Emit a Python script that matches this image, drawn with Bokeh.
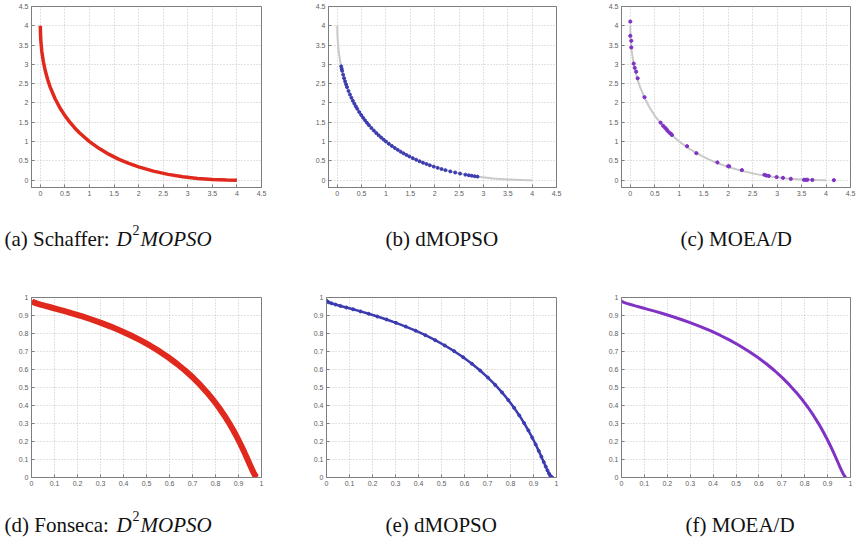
from bokeh.plotting import figure
from bokeh.layouts import column, row
from bokeh.models import FixedTicker, Range1d
from bokeh.core.properties import value
from bokeh.embed import file_html
from bokeh.resources import INLINE

# ---- Schaffer front (reference curve) ----
SCH_F1 = [0.0, 0.002, 0.01, 0.03, 0.06, 0.1, 0.15, 0.2, 0.3, 0.4, 0.5, 0.6, 0.7, 0.8,
          1.0, 1.2, 1.4, 1.6, 1.8, 2.0, 2.3, 2.6, 2.9, 3.2, 3.5, 3.8, 4.0]
SCH_F2 = [4.0, 3.823, 3.61, 3.337, 3.080, 2.835, 2.601, 2.411, 2.109, 1.870, 1.672, 1.502,
          1.353, 1.222, 1.0, 0.818, 0.667, 0.540, 0.433, 0.343, 0.234, 0.150, 0.088,
          0.045, 0.017, 0.003, 0.0]

# ---- Schaffer: dMOPSO solutions ----
DMOPSO_SCH_F1 = [0.08, 0.09, 0.10, 0.12, 0.14, 0.16, 0.18, 0.20, 0.23, 0.26, 0.29, 0.32,
                 0.35, 0.38, 0.41, 0.45, 0.49, 0.53, 0.57, 0.61, 0.65, 0.70, 0.75, 0.80,
                 0.85, 0.90, 0.95, 1.00, 1.06, 1.12, 1.18, 1.24, 1.30, 1.36, 1.42, 1.48,
                 1.55, 1.62, 1.69, 1.76, 1.83, 1.90, 1.98, 2.06, 2.14, 2.22, 2.32, 2.42,
                 2.52, 2.63, 2.70, 2.76, 2.82, 2.88]
DMOPSO_SCH_F2 = [2.949, 2.89, 2.835, 2.734, 2.643, 2.56, 2.483, 2.411, 2.312, 2.220, 2.136,
                 2.057, 1.983, 1.914, 1.849, 1.767, 1.69, 1.618, 1.550, 1.486, 1.425,
                 1.353, 1.286, 1.222, 1.162, 1.105, 1.051, 1.0, 0.942, 0.887, 0.835,
                 0.786, 0.739, 0.695, 0.654, 0.614, 0.570, 0.529, 0.49, 0.453, 0.419,
                 0.386, 0.352, 0.319, 0.288, 0.260, 0.227, 0.198, 0.170, 0.143, 0.127,
                 0.115, 0.103, 0.092]

# ---- Schaffer: MOEA/D solutions ----
MOEAD_SCH_F1 = [0.0, 0.0, 0.02, 0.02, 0.07, 0.09, 0.12, 0.15, 0.29, 0.62, 0.67, 0.71,
                0.74, 0.76, 0.80, 0.83, 0.85, 1.16, 1.35, 1.78, 2.0, 2.02, 2.28, 2.74,
                2.78, 2.83, 2.99, 3.12, 3.28, 3.55, 3.59, 3.62, 3.72, 4.16]
MOEAD_SCH_F2 = [4.11, 3.74, 3.61, 3.44, 3.02, 2.91, 2.81, 2.64, 2.15, 1.49, 1.41, 1.36,
                1.32, 1.28, 1.23, 1.20, 1.17, 0.88, 0.70, 0.46, 0.36, 0.36, 0.26, 0.14,
                0.12, 0.11, 0.08, 0.06, 0.035, 0.01, 0.01, 0.01, 0.005, 0.0]

# ---- Fonseca front ----
FON_F1 = [0.0, 0.0025, 0.0100, 0.0222, 0.0392, 0.0606, 0.0861, 0.1153, 0.1479, 0.1833,
          0.2212, 0.2611, 0.3023, 0.3447, 0.3874, 0.4302, 0.4727, 0.5145, 0.5551, 0.5944,
          0.6321, 0.6679, 0.7018, 0.7335, 0.7631, 0.7904, 0.8155, 0.8384, 0.8592, 0.8779,
          0.8946, 0.9095, 0.9227, 0.9343, 0.9444, 0.9532, 0.9608, 0.9674, 0.9730, 0.9777,
          0.9817]
FON_F2 = [0.9817, 0.9777, 0.9730, 0.9674, 0.9608, 0.9532, 0.9444, 0.9343, 0.9227, 0.9095,
          0.8946, 0.8779, 0.8592, 0.8384, 0.8155, 0.7904, 0.7631, 0.7335, 0.7018, 0.6679,
          0.6321, 0.5944, 0.5551, 0.5145, 0.4727, 0.4302, 0.3874, 0.3447, 0.3023, 0.2611,
          0.2212, 0.1833, 0.1479, 0.1153, 0.0861, 0.0606, 0.0392, 0.0222, 0.0100, 0.0025,
          0.0]

# ---- ticks ----
SCH_TICKS = [0, 0.5, 1, 1.5, 2, 2.5, 3, 3.5, 4, 4.5]
SCH_LABELS = ["0", "0.5", "1", "1.5", "2", "2.5", "3", "3.5", "4", "4.5"]
FON_TICKS = [0, 0.1, 0.2, 0.3, 0.4, 0.5, 0.6, 0.7, 0.8, 0.9, 1]
FON_LABELS = ["0", "0.1", "0.2", "0.3", "0.4", "0.5", "0.6", "0.7", "0.8", "0.9", "1"]

RED = "#e0281c"
BLUE = "#3c3cb0"
PURPLE = "#7f32c4"
GREY = "#c9c9c9"
AX = "#7e7e7e"


def panel(xr, yr, ticks, labels, left, right, top, fw, fh):
    p = figure(frame_width=fw, frame_height=fh,
               x_range=Range1d(*xr), y_range=Range1d(*yr),
               toolbar_location=None, output_backend="svg",
               min_border_left=left, min_border_right=right,
               min_border_top=top, min_border_bottom=18,
               background_fill_color="white", border_fill_color="white",
               outline_line_color=AX)
    overrides = {t: s for t, s in zip(ticks, labels)}
    for ax in (p.xaxis[0], p.yaxis[0]):
        ax.ticker = FixedTicker(ticks=ticks)
        ax.major_label_overrides = overrides
        ax.major_label_text_font_size = "7px"
        ax.major_label_text_color = "#606060"
        ax.major_label_text_font = "Liberation Sans"
        ax.major_label_standoff = 3
        ax.axis_line_color = AX
        ax.major_tick_line_color = AX
        ax.major_tick_in = 3
        ax.major_tick_out = 0
        ax.minor_tick_line_color = None
    for g in (p.xgrid[0], p.ygrid[0]):
        g.ticker = FixedTicker(ticks=ticks)
        g.grid_line_color = "#c4c4c4"
        g.grid_line_dash = "1 2"
        g.grid_line_width = 1
    return p


SCH_X = (-0.18, 4.5)
SCH_Y = (-0.19, 4.5)
FON_R = (0, 1)

# (a) Schaffer: D2MOPSO
pa = panel(SCH_X, SCH_Y, SCH_TICKS, SCH_LABELS, 31, 29, 6, 230, 181)
pa.line(SCH_F1, SCH_F2, line_color=RED, line_width=3.5)

# (b) dMOPSO
pb = panel(SCH_X, SCH_Y, SCH_TICKS, SCH_LABELS, 38, 24, 6, 228, 181)
pb.line(SCH_F1, SCH_F2, line_color=GREY, line_width=2)
pb.scatter(DMOPSO_SCH_F1, DMOPSO_SCH_F2, size=3, marker="circle",
           fill_color=BLUE, line_color=BLUE)

# (c) MOEA/D
pc = panel(SCH_X, SCH_Y, SCH_TICKS, SCH_LABELS, 41, 9, 6, 229, 181)
pc.line(SCH_F1, SCH_F2, line_color=GREY, line_width=2)
pc.scatter(MOEAD_SCH_F1, MOEAD_SCH_F2, size=3.2, marker="circle",
           fill_color=PURPLE, line_color=PURPLE)

# (d) Fonseca: D2MOPSO
pd = panel(FON_R, FON_R, FON_TICKS, FON_LABELS, 31, 29, 7, 230, 180)
pd.line(FON_F1, FON_F2, line_color=RED, line_width=6)

# (e) dMOPSO
pe = panel(FON_R, FON_R, FON_TICKS, FON_LABELS, 36, 24, 7, 230, 180)
pe.line(FON_F1, FON_F2, line_color=BLUE, line_width=2.5)
pe.scatter(FON_F1, FON_F2, size=3, marker="circle", fill_color=BLUE, line_color=BLUE)

# (f) MOEA/D
pf = panel(FON_R, FON_R, FON_TICKS, FON_LABELS, 41, 9, 7, 229, 180)
pf.line(FON_F1, FON_F2, line_color=PURPLE, line_width=3)


def caption_strip(height, baseline, pieces):
    c = figure(width=859, height=height, x_range=Range1d(0, 859),
               y_range=Range1d(0, height), toolbar_location=None,
               output_backend="svg", min_border=0, outline_line_color=None,
               background_fill_color="white", border_fill_color="white")
    c.axis.visible = False
    c.grid.visible = False
    for txt, x, style, size, rise in pieces:
        c.text(x=[x], y=[baseline + rise], text=[txt],
               text_font=value("Liberation Serif"), text_font_style=style,
               text_font_size=size, text_color="#111111",
               text_align="left", text_baseline="alphabetic")
    return c


CAP = "21px"
SUP = "14px"
cap1 = caption_strip(85, 52, [
    ("(a) Schaffer:", 4, "normal", CAP, 0),
    ("D", 116, "italic", CAP, 0),
    ("2", 132, "normal", SUP, 9),
    ("MOPSO", 140, "italic", CAP, 0),
    ("(b) dMOPSO", 385, "normal", CAP, 0),
    ("(c) MOEA/D", 680, "normal", CAP, 0),
])
cap2 = caption_strip(50, 21, [
    ("(d) Fonseca:", 4, "normal", CAP, 0),
    ("D", 116, "italic", CAP, 0),
    ("2", 132, "normal", SUP, 9),
    ("MOPSO", 140, "italic", CAP, 0),
    ("(e) dMOPSO", 385, "normal", CAP, 0),
    ("(f) MOEA/D", 685, "normal", CAP, 0),
])

layout = column(row(pa, pb, pc), cap1, row(pd, pe, pf), cap2)
open("out.html", "w").write(file_html(layout, INLINE))
